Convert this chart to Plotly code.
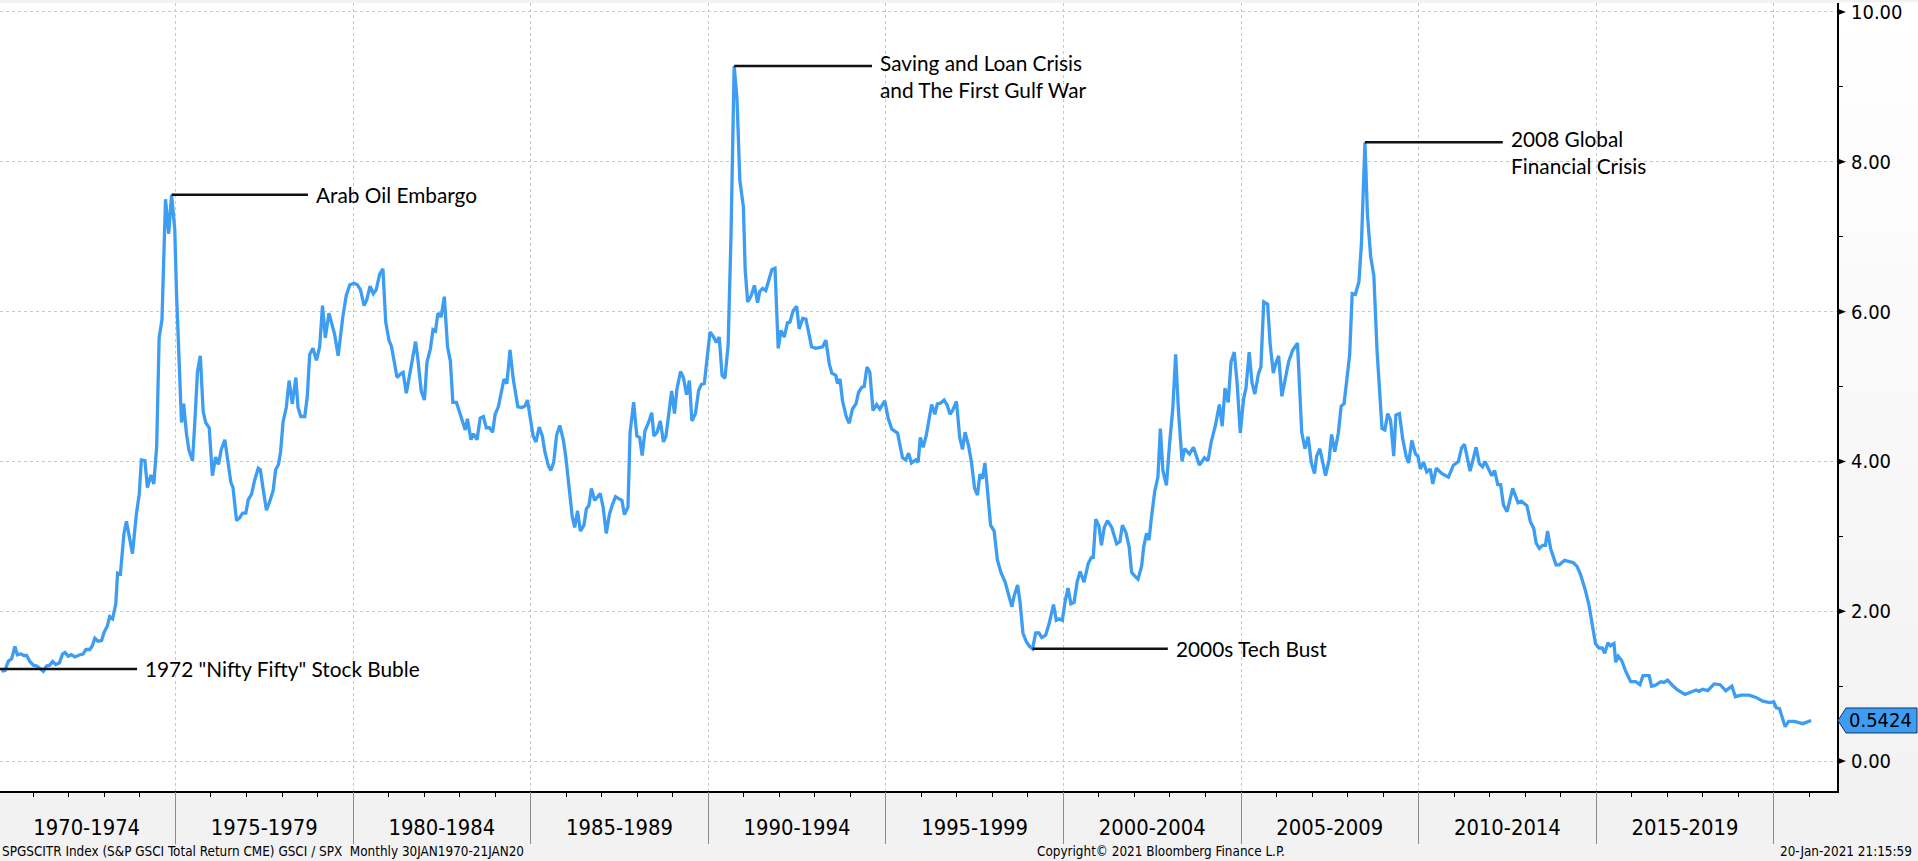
import plotly.graph_objects as go

# ---------------- data ----------------
years = [
    1970.10, 1970.20, 1970.29, 1970.39, 1970.48, 1970.55, 1970.65, 1970.73, 1970.81, 1970.90,
    1971.00, 1971.09, 1971.18, 1971.28, 1971.37, 1971.46, 1971.54, 1971.63, 1971.73, 1971.82,
    1971.89, 1971.98, 1972.07, 1972.17, 1972.31, 1972.40, 1972.48, 1972.59, 1972.66, 1972.73,
    1972.82, 1972.92, 1972.99, 1973.08, 1973.15, 1973.23, 1973.32, 1973.37, 1973.45, 1973.55,
    1973.62, 1973.72, 1973.79, 1973.90, 1973.98, 1974.04, 1974.14, 1974.21, 1974.31, 1974.39,
    1974.47, 1974.54, 1974.62, 1974.72, 1974.81, 1974.89, 1974.98, 1975.03, 1975.10, 1975.17,
    1975.23, 1975.31, 1975.38, 1975.48, 1975.54, 1975.62, 1975.70, 1975.78, 1975.85, 1975.95,
    1976.04, 1976.13, 1976.21, 1976.29, 1976.39, 1976.48, 1976.56, 1976.62, 1976.72, 1976.81,
    1976.89, 1976.98, 1977.05, 1977.14, 1977.23, 1977.33, 1977.39, 1977.47, 1977.56, 1977.65,
    1977.75, 1977.82, 1977.90, 1977.96, 1978.03, 1978.12, 1978.20, 1978.29, 1978.39, 1978.45,
    1978.53, 1978.64, 1978.71, 1978.78, 1978.87, 1978.97, 1979.06, 1979.14, 1979.22, 1979.32,
    1979.39, 1979.48, 1979.58, 1979.64, 1979.72, 1979.81, 1979.91, 1980.03, 1980.12,
    1980.21, 1980.31, 1980.38, 1980.48, 1980.57, 1980.65, 1980.75, 1980.84, 1980.92, 1981.01,
    1981.08, 1981.17, 1981.24, 1981.34, 1981.41, 1981.50, 1981.59, 1981.66, 1981.76, 1981.82,
    1981.92, 1982.01, 1982.08, 1982.18, 1982.25, 1982.32, 1982.39, 1982.48, 1982.57, 1982.66,
    1982.74, 1982.81, 1982.91, 1982.99, 1983.08, 1983.16, 1983.22, 1983.32, 1983.39, 1983.49,
    1983.58, 1983.67, 1983.75, 1983.84, 1983.93, 1984.00, 1984.09, 1984.17, 1984.25, 1984.33,
    1984.42, 1984.51, 1984.64, 1984.75, 1984.84, 1984.91, 1985.00, 1985.07, 1985.15, 1985.24,
    1985.33, 1985.40, 1985.50, 1985.57, 1985.65, 1985.73, 1985.82, 1985.92, 1985.99, 1986.08,
    1986.17, 1986.24, 1986.32, 1986.40, 1986.50, 1986.57, 1986.64, 1986.71, 1986.80, 1986.96,
    1987.04, 1987.13, 1987.22, 1987.30, 1987.39, 1987.49, 1987.57, 1987.64, 1987.74, 1987.80,
    1987.90, 1987.99, 1988.07, 1988.14, 1988.22, 1988.32, 1988.41, 1988.47, 1988.56, 1988.65,
    1988.74, 1988.81, 1988.89, 1988.97, 1989.05, 1989.12, 1989.22, 1989.30, 1989.39, 1989.47,
    1989.54, 1989.64, 1989.73, 1989.81, 1989.89, 1989.98, 1990.05, 1990.14, 1990.23,
    1990.31, 1990.39, 1990.47, 1990.56, 1990.64, 1990.73, 1990.81, 1990.89, 1990.99, 1991.04,
    1991.11, 1991.20, 1991.30, 1991.39, 1991.45, 1991.53, 1991.62, 1991.72, 1991.79, 1991.88,
    1991.97, 1992.05, 1992.14, 1992.23, 1992.30, 1992.39, 1992.49, 1992.56, 1992.66, 1992.75,
    1992.81, 1992.91, 1993.03, 1993.22, 1993.31, 1993.41, 1993.48, 1993.59, 1993.64, 1993.71,
    1993.78, 1993.89, 1993.97, 1994.06, 1994.16, 1994.23, 1994.32, 1994.39, 1994.47, 1994.55,
    1994.64, 1994.74, 1994.83, 1994.97, 1995.07, 1995.17, 1995.33, 1995.47, 1995.56, 1995.64,
    1995.72, 1995.84, 1995.91, 1995.97, 1996.05, 1996.14, 1996.22, 1996.29, 1996.38, 1996.45,
    1996.55, 1996.64, 1996.72, 1996.81, 1996.88, 1996.99, 1997.08, 1997.16, 1997.23, 1997.33,
    1997.41, 1997.50, 1997.58, 1997.65, 1997.72, 1997.79, 1997.84, 1997.89, 1997.95, 1998.05,
    1998.14, 1998.24, 1998.36, 1998.44, 1998.55, 1998.61, 1998.71, 1998.78, 1998.86, 1998.96,
    1999.05, 1999.13, 1999.22, 1999.31, 1999.39, 1999.50, 1999.60, 1999.72, 1999.80, 1999.88,
    1999.97, 2000.05, 2000.13, 2000.21, 2000.30, 2000.39,
    2000.47, 2000.58, 2000.70, 2000.79, 2000.84, 2000.91, 2001.00, 2001.07, 2001.15, 2001.24,
    2001.36, 2001.50, 2001.59, 2001.66, 2001.76, 2001.85, 2001.92, 2002.01, 2002.10, 2002.20,
    2002.26, 2002.34, 2002.41, 2002.48, 2002.57, 2002.66, 2002.73, 2002.80, 2002.90, 2002.99,
    2003.08, 2003.16, 2003.24, 2003.34, 2003.41, 2003.55, 2003.66, 2003.83, 2003.97, 2004.07,
    2004.16, 2004.28, 2004.39, 2004.47, 2004.55, 2004.64, 2004.72, 2004.81, 2004.89, 2004.98,
    2005.07, 2005.14, 2005.23, 2005.31, 2005.39, 2005.49, 2005.56, 2005.64, 2005.75, 2005.82,
    2005.91, 2005.98, 2006.06, 2006.15, 2006.24, 2006.34, 2006.45, 2006.59, 2006.71, 2006.80,
    2006.89, 2006.98, 2007.07, 2007.13, 2007.22, 2007.38, 2007.48, 2007.55, 2007.64, 2007.74,
    2007.82, 2007.90, 2007.97, 2008.06, 2008.13, 2008.22, 2008.32, 2008.39, 2008.49, 2008.56,
    2008.65, 2008.74, 2008.83, 2008.93, 2008.97, 2009.05, 2009.13, 2009.21, 2009.30, 2009.36,
    2009.46, 2009.55, 2009.65, 2009.72, 2009.81, 2009.91, 2009.98, 2010.05, 2010.14, 2010.23,
    2010.33, 2010.40, 2010.50, 2010.65, 2010.84,
    2010.98, 2011.12, 2011.21, 2011.29, 2011.45, 2011.62, 2011.71, 2011.80, 2011.87, 2012.06,
    2012.14, 2012.23, 2012.31, 2012.39, 2012.49, 2012.65, 2012.80, 2012.89, 2013.05, 2013.15,
    2013.24, 2013.31, 2013.40, 2013.49, 2013.57, 2013.63, 2013.72, 2013.87, 2013.96, 2014.11,
    2014.27, 2014.35, 2014.46, 2014.56, 2014.70, 2014.79, 2014.89, 2014.98, 2015.08, 2015.17,
    2015.24, 2015.33, 2015.40, 2015.50, 2015.55, 2015.62, 2015.72, 2015.83, 2015.97, 2016.11,
    2016.23, 2016.32, 2016.49, 2016.56, 2016.66, 2016.82, 2016.91, 2017.01, 2017.15, 2017.29,
    2017.50, 2017.66, 2017.81, 2017.90, 2017.99, 2018.14, 2018.32, 2018.49, 2018.65, 2018.82,
    2018.92, 2019.08, 2019.31, 2019.50, 2019.69, 2019.88, 2020.00, 2020.07, 2020.16, 2020.32,
    2020.42, 2020.58, 2020.82, 2021.05,
]

ratio = [
    1.20, 1.21, 1.33, 1.37, 1.53, 1.42, 1.43, 1.41, 1.41, 1.33,
    1.28, 1.27, 1.24, 1.20, 1.27, 1.28, 1.33, 1.29, 1.31, 1.43,
    1.45, 1.40, 1.42, 1.39, 1.42, 1.43, 1.49, 1.49, 1.54, 1.64,
    1.60, 1.61, 1.72, 1.80, 1.93, 1.90, 2.10, 2.51, 2.50, 3.04,
    3.20, 2.92, 2.77, 3.30, 3.56, 4.02, 4.01, 3.65, 3.82, 3.70,
    4.19, 5.65, 5.89, 7.50, 7.04, 7.56, 7.10, 6.24, 5.22, 4.52,
    4.77, 4.37, 4.15, 4.01, 4.48, 5.20, 5.41, 4.67, 4.52, 4.45,
    3.81, 4.06, 3.96, 4.16, 4.29, 4.01, 3.72, 3.65, 3.21, 3.25,
    3.31, 3.31, 3.49, 3.56, 3.75, 3.91, 3.89, 3.63, 3.35, 3.46,
    3.61, 3.89, 3.96, 4.13, 4.53, 4.72, 5.08, 4.77, 5.12, 4.72,
    4.60, 4.60, 4.86, 5.43, 5.51, 5.35, 5.53, 6.08, 5.65, 5.98,
    5.86, 5.70, 5.41, 5.67, 5.96, 6.22, 6.36, 6.38, 6.36,
    6.29, 6.08, 6.15, 6.34, 6.24, 6.29, 6.50, 6.57, 5.86, 5.62,
    5.54, 5.27, 5.12, 5.17, 5.19, 4.91, 5.15, 5.29, 5.60, 5.39,
    4.94, 4.82, 5.32, 5.51, 5.76, 5.74, 5.98, 5.93, 6.20, 5.53,
    5.34, 4.79, 4.79, 4.67, 4.53, 4.42, 4.57, 4.29, 4.37, 4.29,
    4.58, 4.60, 4.45, 4.45, 4.39, 4.63, 4.73, 4.91, 5.10, 5.04,
    5.49, 5.10, 4.73, 4.72, 4.74, 4.82, 4.58, 4.34, 4.26, 4.46,
    4.34, 4.13, 3.94, 3.88, 3.99, 4.35, 4.48, 4.29, 4.06, 3.65,
    3.27, 3.12, 3.34, 3.07, 3.15, 3.37, 3.41, 3.64, 3.48, 3.57,
    3.39, 3.04, 3.30, 3.42, 3.53, 3.50, 3.48, 3.29, 3.39, 4.39,
    4.79, 4.34, 4.32, 4.08, 4.41, 4.52, 4.65, 4.34, 4.39, 4.54,
    4.26, 4.34, 4.63, 4.94, 4.64, 4.97, 5.20, 5.12, 4.89, 5.08,
    4.54, 4.64, 4.95, 5.03, 5.04, 5.40, 5.73, 5.67, 5.59,
    5.66, 5.15, 5.11, 5.55, 6.99, 9.28, 8.84, 7.75, 7.40, 6.56,
    6.13, 6.20, 6.35, 6.12, 6.27, 6.31, 6.28, 6.46, 6.56, 6.58,
    5.51, 5.75, 5.66, 5.85, 5.86, 6.01, 6.07, 5.77, 5.91, 5.90,
    5.74, 5.53, 5.51, 5.53, 5.62, 5.30, 5.18, 5.15, 5.04, 5.10,
    4.81, 4.59, 4.51, 4.70, 4.77, 4.92, 4.99, 5.00, 5.26, 5.19,
    4.68, 4.76, 4.70, 4.81, 4.57, 4.43, 4.38, 4.05, 4.02, 4.11,
    3.98, 4.02, 3.99, 4.32, 4.19, 4.35, 4.57, 4.76, 4.63, 4.77,
    4.78, 4.82, 4.76, 4.63, 4.68, 4.80, 4.32, 4.16, 4.39, 4.21,
    3.99, 3.64, 3.55, 3.83, 3.77, 3.98, 3.73, 3.40, 3.15, 3.07,
    2.69, 2.52, 2.39, 2.25, 2.06, 2.20, 2.35, 2.12, 1.71, 1.59,
    1.53, 1.50, 1.71, 1.71, 1.65, 1.68, 1.84, 2.09, 1.88, 1.90,
    1.88, 2.14, 2.31, 2.10, 2.12, 2.40,
    2.53, 2.39, 2.64, 2.72, 2.72, 3.23, 3.14, 2.88, 3.12, 3.21,
    3.12, 2.90, 2.93, 3.15, 3.05, 2.86, 2.52, 2.47, 2.43, 2.60,
    2.86, 3.04, 2.95, 3.26, 3.60, 3.79, 4.44, 3.88, 3.68, 4.24,
    4.71, 5.43, 4.67, 4.00, 4.17, 4.10, 4.19, 3.95, 4.05, 4.01,
    4.26, 4.48, 4.76, 4.47, 4.98, 4.79, 5.33, 5.46, 5.05, 4.38,
    4.83, 4.98, 5.46, 5.05, 4.90, 5.17, 5.26, 6.13, 6.10, 5.57,
    5.18, 5.31, 5.41, 4.87, 5.07, 5.33, 5.48, 5.58, 4.39, 4.17,
    4.33, 3.98, 3.84, 4.07, 4.17, 3.81, 4.02, 4.36, 4.13, 4.38,
    4.74, 4.77, 5.05, 5.43, 6.24, 6.23, 6.40, 6.90, 8.26, 7.29,
    6.74, 6.48, 5.48, 4.67, 4.44, 4.42, 4.64, 4.55, 4.07, 4.62,
    4.64, 4.31, 4.07, 3.98, 4.28, 4.10, 4.07, 3.90, 3.99, 3.86,
    3.90, 3.70, 3.91, 3.84, 3.79,
    3.95, 4.00, 4.18, 4.23, 3.87, 4.19, 3.97, 3.93, 4.00, 3.81,
    3.88, 3.69, 3.69, 3.42, 3.33, 3.64, 3.45, 3.47, 3.41, 3.19,
    3.11, 2.91, 2.84, 2.88, 2.88, 3.07, 2.83, 2.62, 2.62, 2.68,
    2.66, 2.65, 2.60, 2.49, 2.27, 2.10, 1.82, 1.57, 1.51, 1.51,
    1.44, 1.58, 1.54, 1.57, 1.32, 1.40, 1.34, 1.20, 1.06, 1.06,
    1.02, 1.14, 1.14, 1.00, 1.01, 1.06, 1.05, 1.08, 1.01, 0.95,
    0.89, 0.92, 0.95, 0.93, 0.96, 0.94, 1.03, 1.02, 0.94, 1.00,
    0.86, 0.88, 0.88, 0.85, 0.80, 0.78, 0.79, 0.71, 0.70, 0.46,
    0.53, 0.53, 0.50, 0.5424,
]

band_centers = [1972.5, 1977.5, 1982.5, 1987.5, 1992.5, 1997.5, 2002.5, 2007.5, 2012.5, 2017.5]
band_labels = ["1970-1974", "1975-1979", "1980-1984", "1985-1989", "1990-1994",
               "1995-1999", "2000-2004", "2005-2009", "2010-2014", "2015-2019"]
band_edges = [1975, 1980, 1985, 1990, 1995, 2000, 2005, 2010, 2015, 2020]
y_ticks = [0, 2, 4, 6, 8, 10]

event_labels = ['1972 "Nifty Fifty" Stock Buble', "Arab Oil Embargo",
                "Saving and Loan Crisis<br>and The First Gulf War", "2000s Tech Bust",
                "2008 Global<br>Financial Crisis"]
event_year = [1970.06, 1974.89, 1990.73, 1999.13, 2008.49]
event_value = [1.23, 7.56, 9.28, 1.50, 8.26]
label_year = [1973.92, 1978.73, 1994.61, 2002.94, 2012.37]

footer_left = "SPGSCITR Index (S&amp;P GSCI Total Return CME) GSCI / SPX \u00a0Monthly 30JAN1970-21JAN20"
footer_mid = "Copyright\u00a9 2021 Bloomberg Finance L.P."
footer_right = "20-Jan-2021 21:15:59"

# ---------------- styling ----------------
W, H = 1918, 861
ML, MR, MT, MB = 0, 81, 0, 70
PW = W - ML - MR
BLUE = "#3d9df3"
GRID = "#c3c9d1"
AXFONT = "DejaVu Sans Condensed, Liberation Sans, Arial, sans-serif"
ANFONT = "Lato, Open Sans, sans-serif"

fig = go.Figure()
fig.add_trace(go.Scatter(x=years, y=ratio, mode="lines",
                         line=dict(color=BLUE, width=3.3), hoverinfo="skip"))
# carrier trace so the divider axis (x2) is drawn
fig.add_trace(go.Scatter(x=band_edges, y=[None] * len(band_edges), xaxis="x2", yaxis="y",
                         mode="lines", hoverinfo="skip", showlegend=False))

shapes = []
# light vertical gradient in the right-hand strip
n_steps = 24
for i in range(n_steps):
    c = int(round(255 - (255 - 242) * i / (n_steps - 1)))
    shapes.append(dict(type="rect", xref="paper", yref="paper",
                       x0=1.0, x1=W / PW + 0.01, y0=1 - (i + 1) / n_steps, y1=1 - i / n_steps + 0.001,
                       fillcolor=f"rgb({c},{c},{c})", line=dict(width=0), layer="below"))

# triangles pointing to the major y ticks
for v in y_ticks:
    shapes.append(dict(type="path", xref="paper", yref="y", xsizemode="pixel", ysizemode="pixel",
                       xanchor=1, yanchor=v, path="M1,-3 L9,0 L1,3 Z",
                       fillcolor="black", line=dict(width=0)))

# last-value tag
last = ratio[-1]
shapes.append(dict(type="path", xref="paper", yref="y", xsizemode="pixel", ysizemode="pixel",
                   xanchor=1, yanchor=last, path="M1,0 L9,12.5 L80,12.5 L80,-12.5 L9,-12.5 Z",
                   fillcolor=BLUE, line=dict(color="#14365e", width=1)))

# event leader lines
for x0, x1, v in zip(event_year, label_year, event_value):
    shapes.append(dict(type="line", xref="x", yref="y", x0=x0, x1=x1, y0=v, y1=v,
                       line=dict(color="#111111", width=2.5)))

annotations = []
for txt, x1, v in zip(event_labels, label_year, event_value):
    two = "<br>" in txt
    annotations.append(dict(x=x1, y=v, xref="x", yref="y", text=txt, showarrow=False,
                            xanchor="left", yanchor="top" if two else "middle",
                            xshift=6, yshift=18 if two else 0, align="left",
                            font=dict(family=ANFONT, size=20.8, color="black")))

annotations.append(dict(x=1, y=last, xref="paper", yref="y", text=f"{last:.4f}", showarrow=False,
                        xanchor="left", yanchor="middle", xshift=10,
                        font=dict(family=AXFONT, size=20, color="black")))

for txt, xp, anchor in [(footer_left, 0.0, "left"), (footer_mid, 1035 / PW, "left"),
                        (footer_right, 1914 / PW, "right")]:
    annotations.append(dict(x=xp, y=0, xref="paper", yref="paper", text=txt, showarrow=False,
                            xanchor=anchor, yanchor="middle", yshift=-60,
                            font=dict(family=AXFONT, size=13.4, color="black")))

fig.update_layout(
    width=W, height=H,
    margin=dict(l=ML, r=MR, t=MT, b=MB, pad=0),
    paper_bgcolor="#f2f2f2", plot_bgcolor="white",
    showlegend=False, hovermode=False,
    shapes=shapes, annotations=annotations,
    xaxis=dict(range=[1970.06, 2021.78], tickmode="array", tickvals=band_centers, ticktext=band_labels,
               ticks="", showgrid=False, zeroline=False, showline=True, linecolor="black", linewidth=2,
               tickfont=dict(family=AXFONT, size=21.8, color="black"), ticklabelstandoff=16,
               fixedrange=True),
    xaxis2=dict(overlaying="x", matches="x", side="bottom", anchor="y", tickmode="array",
                tickvals=band_edges,
                showticklabels=False, ticks="outside", ticklen=52, tickcolor="#8c8c8c", tickwidth=1,
                showgrid=True, gridcolor=GRID, griddash="dot", gridwidth=1, zeroline=False,
                showline=False, fixedrange=True,
                minor=dict(tickmode="linear", tick0=1970, dtick=1, ticks="outside", ticklen=5,
                           tickcolor="black", tickwidth=1, showgrid=False)),
    yaxis=dict(side="right", range=[-0.399, 10.12], tickmode="array", tickvals=y_ticks,
               tickformat=".2f", ticks="", showgrid=True, gridcolor=GRID, griddash="dot", gridwidth=1,
               zeroline=False, showline=True, linecolor="black", linewidth=2,
               tickfont=dict(family=AXFONT, size=20, color="black"), ticklabelstandoff=8,
               ticklabeloverflow="allow",
               minor=dict(tickmode="linear", tick0=0, dtick=1, ticks="outside", ticklen=4,
                          tickcolor="black", tickwidth=1, showgrid=False),
               fixedrange=True),
)

fig.write_html("out.html", config={"displayModeBar": False},
               post_script="document.body.style.margin='0';document.body.style.overflow='hidden';")
